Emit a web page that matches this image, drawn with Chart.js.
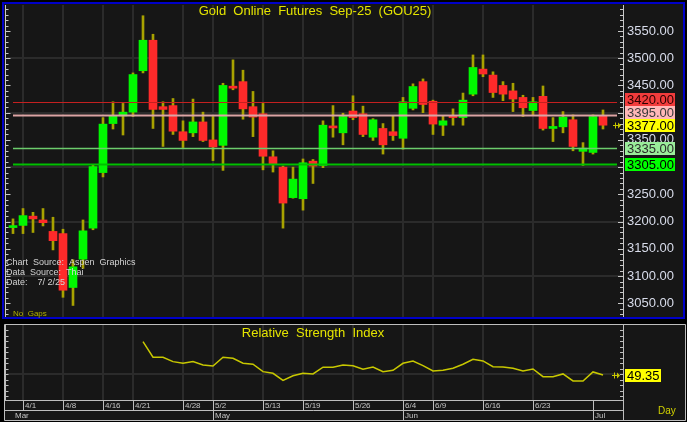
<!DOCTYPE html>
<html>
<head>
<meta charset="utf-8">
<script src="https://cdn.jsdelivr.net/npm/chart.js@4.4.1/dist/chart.umd.min.js"></script>
<style>
  html, body { margin: 0; padding: 0; background: #000; }
  #wrap { position: relative; width: 687px; height: 422px; overflow: hidden; background: #000; }
  #price { position: absolute; left: 0; top: 0; }
  #rsi { position: absolute; left: 0; top: 322px; }
</style>
</head>
<body>
<div id="wrap">
  <canvas id="price" width="687" height="322"></canvas>
  <canvas id="rsi" width="687" height="100"></canvas>
</div>
<script>
// daily bars (Thai trading calendar, no gaps)
const dates = [
  '3/31','4/1','4/2','4/3','4/4','4/8','4/9','4/10','4/11','4/16',
  '4/17','4/18','4/21','4/22','4/23','4/24','4/25','4/28','4/29','4/30',
  '5/2','5/6','5/7','5/8','5/9','5/13','5/14','5/15','5/16','5/19',
  '5/20','5/21','5/22','5/23','5/26','5/27','5/28','5/29','5/30','6/4',
  '6/5','6/6','6/9','6/10','6/11','6/12','6/13','6/16','6/17','6/18',
  '6/19','6/20','6/23','6/24','6/25','6/26','6/27','6/30','7/1','7/2'
];
const opens = [
  3189, 3193, 3210, 3203, 3182, 3178, 3079, 3131, 3188, 3290,
  3380, 3394, 3401, 3477, 3533, 3411, 3413, 3365, 3363, 3383,
  3350, 3340, 3448, 3457, 3411, 3398, 3319, 3300, 3244, 3242,
  3311, 3303, 3373, 3363, 3403, 3398, 3355, 3371, 3365, 3353,
  3408, 3457, 3421, 3377, 3393, 3391, 3434, 3480, 3469, 3450,
  3440, 3428, 3404, 3430, 3371, 3374, 3387, 3329, 3327, 3395
];
const highs = [
  3205, 3224, 3217, 3224, 3208, 3186, 3130, 3203, 3304, 3391,
  3420, 3417, 3473, 3578, 3544, 3420, 3426, 3385, 3425, 3401,
  3393, 3454, 3497, 3478, 3439, 3417, 3330, 3302, 3300, 3315,
  3314, 3385, 3413, 3399, 3431, 3412, 3389, 3380, 3394, 3428,
  3453, 3462, 3423, 3395, 3407, 3436, 3506, 3506, 3475, 3457,
  3454, 3432, 3428, 3449, 3391, 3402, 3396, 3345, 3396, 3405
];
const lows = [
  3178, 3178, 3180, 3192, 3148, 3061, 3046, 3114, 3185, 3282,
  3370, 3359, 3393, 3473, 3371, 3338, 3360, 3336, 3356, 3347,
  3312, 3294, 3442, 3388, 3356, 3295, 3291, 3188, 3243, 3221,
  3270, 3299, 3355, 3341, 3387, 3356, 3349, 3324, 3349, 3333,
  3405, 3400, 3360, 3358, 3377, 3377, 3431, 3466, 3428, 3422,
  3402, 3393, 3396, 3368, 3347, 3363, 3330, 3303, 3324, 3370
];
const closes = [
  3191, 3211, 3205, 3198, 3165, 3074, 3117, 3183, 3301, 3379,
  3395, 3401, 3470, 3533, 3406, 3406, 3366, 3349, 3383, 3349,
  3337, 3450, 3445, 3407, 3392, 3320, 3305, 3234, 3278, 3308,
  3302, 3377, 3372, 3393, 3391, 3360, 3387, 3341, 3358, 3420,
  3448, 3415, 3379, 3385, 3391, 3423, 3483, 3471, 3437, 3434,
  3425, 3409, 3420, 3371, 3374, 3392, 3338, 3335, 3393, 3377
];
const rsi = [
  null, null, null, null, null, null, null, null, null, null,
  null, null, null, 79.6, 65.5, 65.5, 61.5, 60.0, 61.5, 58.5,
  57.5, 65.5, 64.5, 60.0, 59.1, 52.4, 50.9, 44.5, 48.7, 50.9,
  50.3, 56.4, 56.4, 58.5, 57.8, 54.5, 56.6, 52.4, 53.6, 60.0,
  62.1, 57.8, 53.0, 53.6, 55.5, 59.1, 63.6, 62.1, 56.9, 56.6,
  55.5, 53.0, 54.8, 47.8, 47.8, 50.3, 43.9, 43.9, 52.1, 49.35
];

// axis labels
const gridDates = ['4/1','4/8','4/16','4/21','4/28','5/2','5/13','5/19','5/26','6/4','6/9','6/16','6/23'];
const monthNames = ['Mar','May','Jun','Jul'];
const monthStarts = ['3/31','5/2','6/4','7/1'];
const priceTicks = [3050, 3100, 3150, 3200, 3250, 3300, 3350, 3400, 3450, 3500, 3550];
const rsiTicks = [30, 35, 40, 45, 50, 55, 60, 65, 70, 75, 80, 85, 90];

// horizontal levels
const levelValues = [3420, 3395, 3335, 3305];
const levelColors = ['#c42020', '#dca4a4', '#6ccc6c', '#00c000'];
const levelWidths = [1, 2, 1.5, 2];
const levelBoxColors = ['#f23c3c', '#ffb8b8', '#9aec9a', '#00ff00'];
const levelTextColors = ['#2a0000', '#3a3a3a', '#2a2a2a', '#000000'];

const FONT = 'Arial, "Liberation Sans", sans-serif';
Chart.defaults.font.family = FONT;
Chart.defaults.animation = false;

const idx = d => dates.indexOf(d);
const X_MIN = -0.6, X_MAX = 61.0;
const YELLOW = '#e4e400';

const xAxis = () => ({
  type: 'linear',
  min: X_MIN,
  max: X_MAX,
  offset: false,
  afterBuildTicks: s => { s.ticks = gridDates.map(d => ({ value: idx(d) })); },
  ticks: { display: false },
  grid: { color: '#2b2b2b', lineWidth: 2, offset: false, drawTicks: false },
  border: { display: false },
  afterFit: s => { s.height = 0; s.paddingLeft = 0; s.paddingRight = 0; }
});

function drawArrow(c, x, y) {
  c.save();
  c.strokeStyle = '#c8c800';
  c.fillStyle = '#c8c800';
  c.lineWidth = 1;
  c.beginPath();
  c.moveTo(x - 4, y + 0.5); c.lineTo(x + 1, y + 0.5);
  c.moveTo(x - 1.5, y - 2.5); c.lineTo(x - 1.5, y + 3.5);
  c.stroke();
  c.beginPath();
  c.moveTo(x + 1, y - 2.5); c.lineTo(x + 4, y + 0.5); c.lineTo(x + 1, y + 3.5);
  c.closePath();
  c.fill();
  c.restore();
}

const pricePanel = {
  id: 'pricePanel',
  beforeDraw(chart) {
    const c = chart.ctx;
    c.save();
    c.fillStyle = '#000';
    c.fillRect(0, 0, chart.width, chart.height);
    c.fillStyle = '#161616';
    c.fillRect(3, 3, 681, 315);
    c.restore();
  },
  afterDatasetsDraw(chart) {
    const c = chart.ctx, ys = chart.scales.y, xs = chart.scales.x, a = chart.chartArea;
    c.save();
    levelValues.forEach((v, i) => {
      const y = Math.round(ys.getPixelForValue(v)) + 0.5;
      c.strokeStyle = levelColors[i];
      c.lineWidth = levelWidths[i];
      c.beginPath();
      c.moveTo(xs.getPixelForValue(0), y);
      c.lineTo(a.right - 6, y);
      c.stroke();
    });
    c.restore();
  },
  afterDraw(chart) {
    const c = chart.ctx, ys = chart.scales.y, a = chart.chartArea;
    c.save();

    // axis lines with minor ticks on both sides
    c.strokeStyle = '#c8c8c8';
    c.lineWidth = 1;
    c.beginPath();
    c.moveTo(a.right + 0.5, a.top); c.lineTo(a.right + 0.5, a.bottom);
    c.moveTo(5.5, a.top); c.lineTo(5.5, a.bottom);
    for (let v = 3030; v <= 3590; v += 10) {
      const y = Math.round(ys.getPixelForValue(v)) + 0.5;
      const len = v % 50 === 0 ? 5 : 3;
      c.moveTo(a.right - len, y); c.lineTo(a.right + 0.5, y);
      c.moveTo(5.5, y); c.lineTo(5.5 + len, y);
    }
    c.stroke();

    // blue frame
    c.strokeStyle = '#0000c8';
    c.lineWidth = 2;
    c.strokeRect(3, 3, 681, 315);

    // value boxes on the price axis
    const last = closes[closes.length - 1];
    const marks = levelValues.map((v, i) => ({ v, bg: levelBoxColors[i], fg: levelTextColors[i] }));
    marks.push({ v: last, bg: '#ffff00', fg: '#000' });
    marks.sort((p, q) => q.v - p.v);
    const py = marks.map(m => ys.getPixelForValue(m.v));
    for (let i = marks.length - 2; i >= 0; i--) py[i] = Math.min(py[i], py[i + 1] - 13);
    c.font = '13px ' + FONT;
    c.textBaseline = 'middle';
    c.textAlign = 'left';
    marks.forEach((m, i) => {
      const y = Math.round(py[i]);
      c.fillStyle = m.bg;
      c.fillRect(625, y - 6, 50, 13);
      c.fillStyle = m.fg;
      c.fillText(m.v.toFixed(2), 627, y + 1);
    });
    drawArrow(c, 617, Math.round(ys.getPixelForValue(last)));

    // title
    c.fillStyle = YELLOW;
    c.textAlign = 'center';
    c.fillText('Gold  Online  Futures  Sep-25  (GOU25)', 315, 11);

    // source notes
    c.textAlign = 'left';
    c.font = '9px ' + FONT;
    c.fillStyle = '#d4d4d4';
    c.fillText('Chart  Source:  Aspen  Graphics', 6, 263);
    c.fillText('Data  Source:  Thai', 6, 273);
    c.fillText('Date:    7/ 2/25', 6, 283);
    c.font = '8px ' + FONT;
    c.fillStyle = '#b0b000';
    c.fillText('No  Gaps', 13, 314);
    c.restore();
  }
};

new Chart(document.getElementById('price'), {
  type: 'bar',
  data: {
    datasets: [
      {
        label: 'Body',
        data: dates.map((d, i) => ({ x: i, y: [opens[i], closes[i]] })),
        backgroundColor: dates.map((d, i) => closes[i] >= opens[i] ? '#00f800' : '#ff2a2a'),
        barThickness: 8,
        minBarLength: 2,
        grouped: false,
        order: 0
      },
      {
        label: 'Range',
        data: dates.map((d, i) => ({ x: i, y: [lows[i], highs[i]] })),
        backgroundColor: '#a8a200',
        barThickness: 2,
        grouped: false,
        order: 1
      }
    ]
  },
  options: {
    responsive: false,
    layout: { padding: { top: 5, bottom: 4, left: 7, right: 0 } },
    plugins: { legend: { display: false }, tooltip: { enabled: false } },
    scales: {
      x: xAxis(),
      y: {
        position: 'right',
        min: 3023,
        max: 3597.7,
        afterBuildTicks: s => { s.ticks = priceTicks.map(v => ({ value: v })); },
        ticks: {
          color: '#d8dcea',
          font: { size: 13 },
          padding: 4,
          callback: v => v.toFixed(2)
        },
        grid: {
          color: c => c.tick && c.tick.value % 100 === 0 ? '#2b2b2b' : 'rgba(0,0,0,0)',
          lineWidth: 2,
          drawTicks: false
        },
        border: { display: false },
        afterFit: s => { s.width = 64; s.paddingTop = 0; s.paddingBottom = 0; }
      }
    }
  },
  plugins: [pricePanel]
});

const rsiPanel = {
  id: 'rsiPanel',
  beforeDraw(chart) {
    const c = chart.ctx;
    c.save();
    c.fillStyle = '#000';
    c.fillRect(0, 0, chart.width, chart.height);
    c.fillStyle = '#161616';
    c.fillRect(4, 2, 682, 97);
    c.restore();
  },
  afterDraw(chart) {
    const c = chart.ctx, ys = chart.scales.y, xs = chart.scales.x, a = chart.chartArea;
    c.save();
    c.strokeStyle = '#bdbdbd';
    c.lineWidth = 1;
    c.beginPath();
    // frame
    c.rect(4.5, 2.5, 681, 96);
    // axis line and ticks
    c.moveTo(a.right + 0.5, 2.5); c.lineTo(a.right + 0.5, 98.5);
    c.moveTo(5.5, a.top); c.lineTo(5.5, a.bottom);
    rsiTicks.forEach(v => {
      const y = Math.round(ys.getPixelForValue(v)) + 0.5;
      c.moveTo(a.right - 3, y); c.lineTo(a.right + 0.5, y);
      c.moveTo(5.5, y); c.lineTo(8.5, y);
    });
    // date rows
    c.moveTo(4.5, a.bottom + 0.5); c.lineTo(a.right, a.bottom + 0.5);
    c.moveTo(4.5, a.bottom + 10.5); c.lineTo(a.right, a.bottom + 10.5);
    gridDates.forEach(d => {
      const x = Math.round(xs.getPixelForValue(idx(d))) + 0.5;
      c.moveTo(x, a.bottom); c.lineTo(x, a.bottom + 10.5);
    });
    monthStarts.slice(1).forEach(d => {
      const x = Math.round(xs.getPixelForValue(idx(d))) + 0.5;
      c.moveTo(x, a.bottom); c.lineTo(x, 98.5);
    });
    c.stroke();

    c.font = '8px ' + FONT;
    c.fillStyle = '#c4c4c4';
    c.textBaseline = 'middle';
    c.textAlign = 'left';
    gridDates.forEach(d => {
      c.fillText(d, Math.round(xs.getPixelForValue(idx(d))) + 2, a.bottom + 6);
    });
    monthNames.forEach((m, i) => {
      c.fillText(m, Math.round(xs.getPixelForValue(idx(monthStarts[i]))) + 2, a.bottom + 16);
    });

    // title
    c.font = '13px ' + FONT;
    c.fillStyle = YELLOW;
    c.textAlign = 'center';
    c.fillText('Relative  Strength  Index', 313, 11);

    // last value box
    const last = rsi[rsi.length - 1];
    const y = Math.round(ys.getPixelForValue(last));
    c.fillStyle = '#ffff00';
    c.fillRect(625, y - 6, 36, 13);
    c.fillStyle = '#000';
    c.textAlign = 'left';
    c.fillText(last.toFixed(2), 627, y + 1);
    drawArrow(c, 616, y);

    c.font = '10px ' + FONT;
    c.fillStyle = '#d0d000';
    c.fillText('Day', 658, a.bottom + 11);
    c.restore();
  }
};

new Chart(document.getElementById('rsi'), {
  type: 'line',
  data: {
    datasets: [{
      label: 'RSI',
      data: dates.map((d, i) => ({ x: i, y: rsi[i] })).filter(p => p.y !== null),
      borderColor: '#c8c800',
      borderWidth: 1.5,
      pointRadius: 0,
      tension: 0
    }]
  },
  options: {
    responsive: false,
    layout: { padding: { top: 3, bottom: 22, left: 7, right: 0 } },
    plugins: { legend: { display: false }, tooltip: { enabled: false } },
    scales: {
      x: xAxis(),
      y: {
        position: 'right',
        min: 26.6,
        max: 94.8,
        afterBuildTicks: s => { s.ticks = rsiTicks.map(v => ({ value: v })); },
        ticks: { display: false },
        grid: {
          color: c => c.tick && c.tick.value === 50 ? '#2b2b2b' : 'rgba(0,0,0,0)',
          lineWidth: 2,
          drawTicks: false
        },
        border: { display: false },
        afterFit: s => { s.width = 64; s.paddingTop = 0; s.paddingBottom = 0; }
      }
    }
  },
  plugins: [rsiPanel]
});
</script>
</body>
</html>
